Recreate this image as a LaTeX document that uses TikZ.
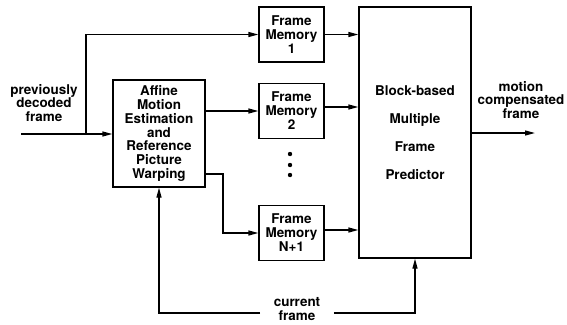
\documentclass[tikz,border=0pt]{standalone}
\usepackage{fontspec}
\setmainfont{TeX Gyre Heros}
\usetikzlibrary{arrows.meta,positioning}

\begin{document}
\begin{tikzpicture}[x=1bp, y=-1bp, font=\fontsize{13.5}{14}\selectfont\bfseries,
      line width=1.3bp, >={Triangle[length=10bp,width=5bp]},
      blk/.style={rectangle, draw, thick, line width=1.3bp, align=center, inner sep=2pt},
      memo/.style={blk, minimum width=65bp, minimum height=55bp},
      lbl/.style={align=center, inner sep=0pt}]
    \useasboundingbox (0,0) rectangle (567,324);
    \node[blk, minimum width=92bp, minimum height=107bp] (affine) at (159,133.5)
      {Affine\\Motion\\Estimation\\and\\Reference\\Picture\\Warping};
    \node[memo] (fm1) at (291.5,34.5) {Frame\\Memory\\1};
    \node[memo] (fm2) at (291.5,111) {Frame\\Memory\\2};
    \node[memo] (fmn) at (291.5,233) {Frame\\Memory\\N+1};
    \node[blk, minimum width=112bp, minimum height=251bp,
          font=\fontsize{13.5}{28}\selectfont\bfseries] (pred) at (415,132.5)
      {Block-based\\Multiple\\Frame\\Predictor};
    \foreach \y in {154,165,175}
      \fill (290,\y) circle (2.2bp);
    \node[lbl] (prev) at (44,103) {previously\\decoded\\frame};
    \node[lbl] (mcf) at (521,100) {motion\\compensated\\frame};
    \node[lbl, inner xsep=13bp] (cur) at (297,309) {current\\frame};
    \coordinate (in) at (21,134);
    \coordinate (fork) at (86,134);
    \coordinate (out) at (535,133);
    \coordinate (bend) at (223,174);
    % inputs
    \draw[->] (in) -- (affine.west |- in);
    \draw[->] (fork) |- (fm1.west);
    \draw[->] (affine.east |- fm2) -- (fm2.west);
    \draw[->] (affine.east |- bend) -- (bend) |- (fmn.west);
    % memories into predictor
    \draw[->] (fm1.east) -- (fm1.east -| pred.west);
    \draw[->] ([yshift=4bp]fm2.east) -- ([yshift=4bp]fm2.east -| pred.west);
    \draw[->] ([yshift=3bp]fmn.east) -- ([yshift=3bp]fmn.east -| pred.west);
    \draw[->] (pred.east |- out) -- (out);
    % current frame
    \draw[->] ([yshift=-4bp]cur.west) -| (affine.south);
    \draw[->] ([yshift=-4bp]cur.east) -| (pred.south);
  \end{tikzpicture}
\end{document}
